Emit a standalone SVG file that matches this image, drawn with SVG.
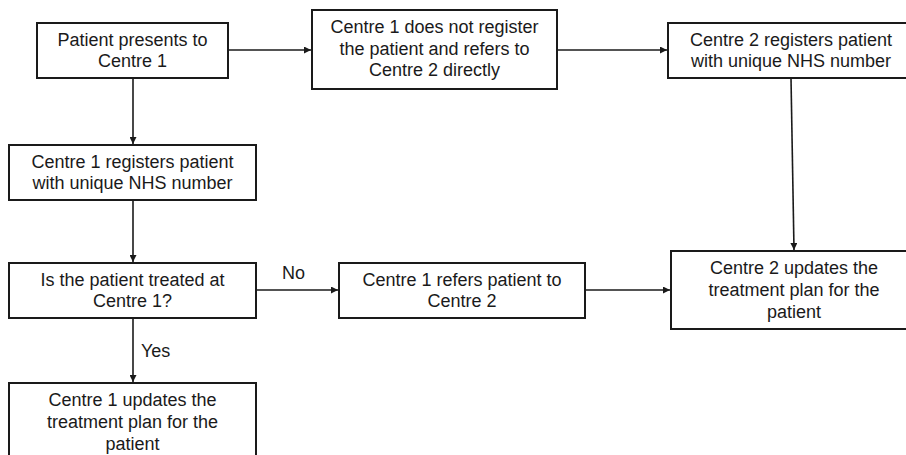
<svg xmlns="http://www.w3.org/2000/svg" width="906" height="455" viewBox="0 0 906 455">
<style>
.box{fill:#fff;stroke:#1a1a1a;stroke-width:2}
.t{font-family:"Liberation Sans",Arial,sans-serif;font-size:18px;fill:#1a1a1a;text-anchor:middle}
.lbl{font-family:"Liberation Sans",Arial,sans-serif;font-size:18px;fill:#1a1a1a}
.c{fill:none;stroke:#1a1a1a;stroke-width:1.6}
</style>
<defs>
<marker id="ah" viewBox="0 0 10 10" refX="10" refY="5" markerWidth="7" markerHeight="7" markerUnits="userSpaceOnUse" orient="auto">
<path d="M0,0 L10,5 L0,10 z" fill="#1a1a1a"/>
</marker>
</defs>
<rect width="906" height="455" fill="#fff"/>
<g id="connectors">
<line class="c" x1="228" y1="50" x2="311" y2="50" marker-end="url(#ah)"/>
<line class="c" x1="557" y1="50" x2="667" y2="50" marker-end="url(#ah)"/>
<line class="c" x1="133" y1="78" x2="133" y2="144" marker-end="url(#ah)"/>
<line class="c" x1="133" y1="200" x2="133" y2="262" marker-end="url(#ah)"/>
<line class="c" x1="256" y1="290" x2="338" y2="290" marker-end="url(#ah)"/>
<line class="c" x1="585" y1="290" x2="670" y2="290" marker-end="url(#ah)"/>
<line class="c" x1="791" y1="78" x2="794" y2="250" marker-end="url(#ah)"/>
<line class="c" x1="133" y1="318" x2="133" y2="382" marker-end="url(#ah)"/>
<text class="lbl" x="282" y="279">No</text>
<text class="lbl" x="141" y="357">Yes</text>
</g>
<g id="n1">
<rect class="box" x="37" y="23" width="191" height="55"/>
<text class="t" x="132.5" y="45.5">Patient presents to</text>
<text class="t" x="132.5" y="66.5">Centre 1</text>
</g>
<g id="n2">
<rect class="box" x="312" y="10" width="245" height="79"/>
<text class="t" x="434.5" y="33">Centre 1 does not register</text>
<text class="t" x="434.5" y="54.5">the patient and refers to</text>
<text class="t" x="434.5" y="76">Centre 2 directly</text>
</g>
<g id="n3">
<rect class="box" x="668" y="23" width="246" height="55"/>
<text class="t" x="791" y="45.5">Centre 2 registers patient</text>
<text class="t" x="791" y="66.5">with unique NHS number</text>
</g>
<g id="n4">
<rect class="box" x="9" y="145" width="247" height="55"/>
<text class="t" x="132.5" y="167.5">Centre 1 registers patient</text>
<text class="t" x="132.5" y="188.5">with unique NHS number</text>
</g>
<g id="n5">
<rect class="box" x="9" y="263" width="247" height="55"/>
<text class="t" x="132.5" y="285.5">Is the patient treated at</text>
<text class="t" x="132.5" y="306.5">Centre 1?</text>
</g>
<g id="n6">
<rect class="box" x="339" y="263" width="246" height="55"/>
<text class="t" x="462" y="285.5">Centre 1 refers patient to</text>
<text class="t" x="462" y="306.5">Centre 2</text>
</g>
<g id="n7">
<rect class="box" x="671" y="251" width="246" height="78"/>
<text class="t" x="794" y="273.5">Centre 2 updates the</text>
<text class="t" x="794" y="296">treatment plan for the</text>
<text class="t" x="794" y="318">patient</text>
</g>
<g id="n8">
<rect class="box" x="9" y="383" width="247" height="80"/>
<text class="t" x="132.5" y="406">Centre 1 updates the</text>
<text class="t" x="132.5" y="428">treatment plan for the</text>
<text class="t" x="132.5" y="450">patient</text>
</g>
</svg>
